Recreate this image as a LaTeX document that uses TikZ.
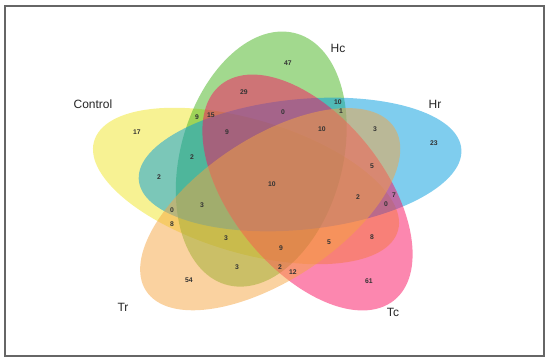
\documentclass[tikz,border=0pt]{standalone}
\usepackage{fontspec}
\setmainfont{Liberation Sans}
\definecolor{ctrlyellow}{RGB}{240,230,40}
\definecolor{hcgreen}{RGB}{70,180,30}
\definecolor{hrblue}{RGB}{0,155,222}
\definecolor{tcpink}{RGB}{250,15,95}
\definecolor{trorange}{RGB}{245,165,65}

\begin{document}
\begin{tikzpicture}[x=1pt,y=1pt,
    num/.style={font=\fontsize{6.8}{8}\selectfont\bfseries,text=black!80},
    setlabel/.style={font=\fontsize{12}{14}\selectfont,text=black!85}]
  \useasboundingbox (-276,-180) rectangle (274,183);
  \draw[black!60,line width=1.5pt] (-271,-173) rectangle (268,177);
  % five sets, drawn in the order of their names
  \begin{scope}[xscale=1.26]
    \foreach \cx/\cy/\rot/\col in {-23.8/-3/157/ctrlyellow, -11.7/23.9/80/hcgreen,
        19.1/18.5/8/hrblue, 25/-9.5/118/tcpink, -4.6/-26.2/44/trorange}
      \fill[\col,fill opacity=0.5,rotate around={\rot:(\cx,\cy)}]
        (\cx,\cy) ellipse [x radius=129,y radius=65];
  \end{scope}
  % region counts
  \foreach \x/\y/\val [count=\i] in {12/120/47, -32/91/29, 7/71/0, 62/81/10, 65/72/1,
      -79/66/9, -65/68/15, -49/51/9, 46/54/10, 99/54/3, 158/40/23, -139/51/17,
      -84/26/2, 96/17/5, -117/6/2, -4/-1/10, 82/-14/2, 118/-12/7, 110/-21/0,
      -104/-27/0, -74/-22/3, -104/-41/8, -50/-55/3, 96/-54/8, 5/-65/9, 53/-59/5,
      -39/-84/3, 4/-84/2, 17/-89/12, -87/-97/54, 93/-98/61}
    \node[num] (r\i) at (\x,\y) {\val};
  % set names
  \node[setlabel] (control) at (-183,79) {Control};
  \node[setlabel] (hc) at (62,135) {Hc};
  \node[setlabel] (hr) at (159,79) {Hr};
  \node[setlabel] (tr) at (-153,-124) {Tr};
  \node[setlabel] (tc) at (117,-129) {Tc};
\end{tikzpicture}
\end{document}
